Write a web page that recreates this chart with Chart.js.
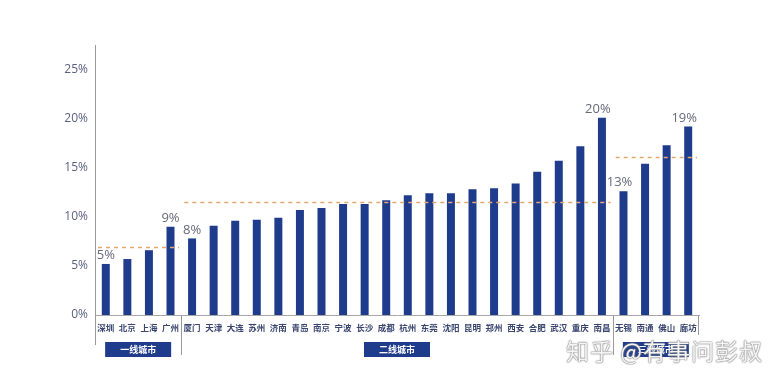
<!DOCTYPE html>
<html>
<head>
<meta charset="utf-8">
<script src="https://cdn.jsdelivr.net/npm/chart.js@4.4.1/dist/chart.umd.min.js"></script>
<style>
  html, body { margin: 0; padding: 0; background: #fff; }
  #wrap { position: relative; width: 770px; height: 385px; }
  #wm {
    position: absolute; left: 566px; top: 333px;
    font-family: "Noto Sans CJK SC", sans-serif; font-size: 23px; letter-spacing: 1px;
    color: rgba(255,255,255,0.92);
    text-shadow: 0 0 1px #777, 0 0 1px #777, 0 0 2px #999;
    white-space: nowrap;
  }
</style>
</head>
<body>
<div id="wrap">
  <canvas id="c" width="770" height="385"></canvas>
  <div id="wm">知乎 @有事问彭叔</div>
</div>
<script>
// 城市
const cities = ['深圳', '北京', '上海', '广州',
  '厦门', '天津', '大连', '苏州', '济南', '青岛', '南京', '宁波', '长沙', '成都',
  '杭州', '东莞', '沈阳', '昆明', '郑州', '西安', '合肥', '武汉', '重庆', '南昌',
  '无锡', '南通', '佛山', '廊坊'];
// 数值 (%)
const values = [5.2, 5.7, 6.6, 9.0,
  7.8, 9.1, 9.6, 9.7, 9.9, 10.7, 10.9, 11.3, 11.3, 11.7,
  12.2, 12.4, 12.4, 12.8, 12.9, 13.4, 14.6, 15.7, 17.2, 20.1,
  12.6, 15.4, 17.3, 19.2];
// 分组: 名称 / 起止索引 / 平均线
const groupNames = ['一线城市', '二线城市', '三线城市'];
const groupStart = [0, 4, 24];
const groupEnd = [3, 23, 27];
const groupAvg = [6.9, 11.5, 16.1];
// 标注数值的柱子
const labeledIdx = [0, 3, 4, 23, 24, 27];
const yTicks = [0, 5, 10, 15, 20, 25];

const navy = '#1f3b8c';

const decorPlugin = {
  id: 'decor',
  afterDatasetsDraw(chart) {
    const { ctx, scales: { x, y }, chartArea } = chart;
    ctx.save();
    // 平均线
    ctx.strokeStyle = '#e6a870';
    ctx.lineWidth = 1.3;
    ctx.setLineDash([4, 4]);
    groupAvg.forEach((v, i) => {
      const x0 = x.getPixelForValue(groupStart[i] - 0.5) + 3;
      const x1 = x.getPixelForValue(groupEnd[i] + 0.5) - 2;
      const py = Math.round(y.getPixelForValue(v)) + 0.5;
      ctx.beginPath(); ctx.moveTo(x0, py); ctx.lineTo(x1, py); ctx.stroke();
    });
    ctx.setLineDash([]);

    // 数值标签
    ctx.fillStyle = '#66697a';
    ctx.font = '13px "Open Sans", "DejaVu Sans", sans-serif';
    ctx.textAlign = 'center';
    ctx.textBaseline = 'bottom';
    labeledIdx.forEach(i => {
      const px = x.getPixelForValue(i) - (i > 20 ? 4 : 0);
      const py = y.getPixelForValue(values[i]) - 2;
      ctx.fillText(Math.round(values[i]) + '%', px, py);
    });

    // 轴线延伸与分组分隔线
    ctx.strokeStyle = '#9a9a9a';
    ctx.lineWidth = 1;
    const bottom = chartArea.bottom;
    const lx = Math.round(chartArea.left) + 0.5;
    ctx.beginPath(); ctx.moveTo(lx, bottom); ctx.lineTo(lx, bottom + 30); ctx.stroke();
    [groupStart[1], groupStart[2]].forEach(s => {
      const sx = Math.round(x.getPixelForValue(s - 0.5)) + 0.5;
      ctx.beginPath(); ctx.moveTo(sx, bottom); ctx.lineTo(sx, bottom + 40); ctx.stroke();
    });
    const rx = Math.round(chartArea.right) - 0.5;
    ctx.beginPath(); ctx.moveTo(rx, bottom); ctx.lineTo(rx, bottom + 20); ctx.stroke();

    // 分组标签框
    ctx.font = 'bold 9px "Noto Sans CJK SC", sans-serif';
    ctx.textBaseline = 'middle';
    groupNames.forEach((name, i) => {
      const cx = (x.getPixelForValue(groupStart[i] - 0.5) + x.getPixelForValue(groupEnd[i] + 0.5)) / 2;
      ctx.fillStyle = navy;
      ctx.fillRect(cx - 33, bottom + 27, 66, 15);
      ctx.fillStyle = '#ffffff';
      ctx.fillText(name, cx, bottom + 34.5);
    });
    ctx.restore();
  }
};

new Chart(document.getElementById('c'), {
  type: 'bar',
  data: {
    labels: cities,
    datasets: [{
      data: values,
      backgroundColor: navy,
      barPercentage: 0.37,
      categoryPercentage: 1
    }]
  },
  options: {
    responsive: false,
    animation: false,
    layout: { padding: { top: 45, right: 71, left: 0, bottom: 0 } },
    plugins: { legend: { display: false }, tooltip: { enabled: false } },
    scales: {
      x: {
        grid: { display: false, drawTicks: false },
        border: { color: '#a8a8a8' },
        ticks: {
          color: '#3a4670', padding: 8, maxRotation: 0, autoSkip: false,
          font: { family: '"Noto Sans CJK SC", sans-serif', size: 8.5, weight: 'bold' }
        },
        afterFit(scale) { scale.height = 70; }
      },
      y: {
        min: 0, max: 27.5,
        grid: { display: false, drawTicks: false },
        border: { color: '#9a9a9a' },
        afterBuildTicks(axis) { axis.ticks = yTicks.map(v => ({ value: v })); },
        ticks: {
          color: '#5b6184', padding: 7,
          font: { family: '"Open Sans", "DejaVu Sans", sans-serif', size: 12 },
          callback: v => v + '%'
        },
        afterFit(scale) { scale.width = 95; }
      }
    }
  },
  plugins: [decorPlugin]
});
</script>
</body>
</html>
